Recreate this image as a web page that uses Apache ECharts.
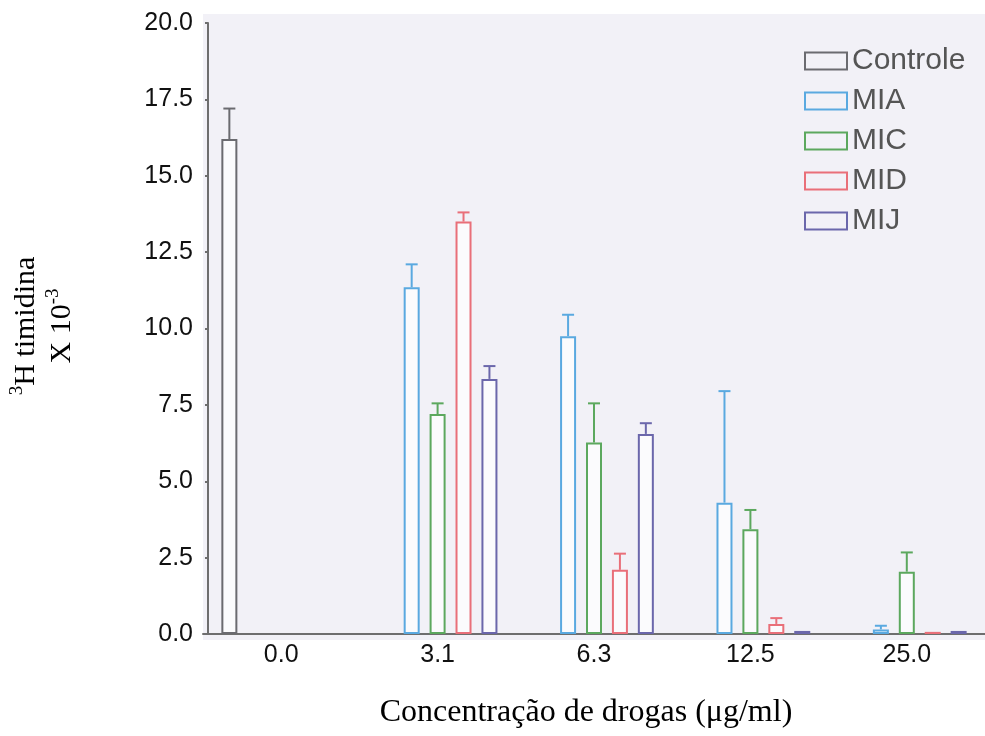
<!DOCTYPE html>
<html>
<head>
<meta charset="utf-8">
<script src="https://cdn.jsdelivr.net/npm/echarts@6/dist/echarts.min.js"></script>
<style>
html,body{margin:0;padding:0;background:#fff;}
#chart{width:985px;height:736px;}
</style>
</head>
<body>
<div id="chart"></div>
<script>
// ---- data ----
const categories = ['0.0', '3.1', '6.3', '12.5', '25.0'];
const seriesNames = ['Controle', 'MIA', 'MIC', 'MID', 'MIJ'];
const controleVals = [16.2, null, null, null, null];
const controleErr  = [17.2, null, null, null, null];
const miaVals = [null, 11.35, 9.75, 4.3, 0.15];
const miaErr  = [null, 12.1, 10.45, 7.95, 0.27];
const micVals = [null, 7.2, 6.27, 3.43, 2.04];
const micErr  = [null, 7.55, 7.55, 4.06, 2.67];
const midVals = [null, 13.5, 2.1, 0.33, 0.07];
const midErr  = [null, 13.8, 2.63, 0.52, null];
const mijVals = [null, 8.35, 6.55, 0.1, 0.1];
const mijErr  = [null, 8.77, 6.9, null, null];
const yTicks = [0, 2.5, 5, 7.5, 10, 12.5, 15, 17.5, 20];

// ---- styling ----
const colors = ['#6b6b70', '#5aa9e0', '#5ca85e', '#e96f79', '#6b67ab'];
const BAR_W = 16;
const GAP = 0.62;
const SLOT = BAR_W * (1 + GAP);
const sans = 'Liberation Sans, Arial, sans-serif';
const serif = 'Liberation Serif, Times New Roman, serif';

const allVals = [controleVals, miaVals, micVals, midVals, mijVals];
const allErr = [controleErr, miaErr, micErr, midErr, mijErr];

const series = [];
seriesNames.forEach((name, k) => {
  series.push({
    name: name,
    type: 'bar',
    barWidth: BAR_W,
    barGap: (GAP * 100) + '%',
    data: allVals[k],
    itemStyle: { color: '#fbfbfd', borderColor: colors[k], borderWidth: 2 },
    emphasis: { disabled: true },
    z: 3
  });
});
seriesNames.forEach((name, k) => {
  const data = [];
  allErr[k].forEach((e, i) => {
    if (e !== null && allVals[k][i] !== null) data.push([i, allVals[k][i], e]);
  });
  const offset = (k - 2) * SLOT;
  series.push({
    name: name + '_err',
    type: 'custom',
    data: data,
    z: 4,
    silent: true,
    renderItem: function (params, api) {
      const xi = api.value(0);
      const base = api.coord([xi, api.value(1)]);
      const top = api.coord([xi, api.value(2)]);
      const x = base[0] + offset;
      const st = { stroke: colors[k], lineWidth: 2 };
      return {
        type: 'group',
        children: [
          { type: 'line', shape: { x1: x, y1: base[1], x2: x, y2: top[1] }, style: st },
          { type: 'line', shape: { x1: x - 6, y1: top[1], x2: x + 6, y2: top[1] }, style: st }
        ]
      };
    }
  });
});

const chart = echarts.init(document.getElementById('chart'), null, { renderer: 'canvas' });
chart.setOption({
  backgroundColor: '#ffffff',
  animation: false,
  grid: { left: 203, right: 0, top: 23, bottom: 102, containLabel: false },
  legend: {
    orient: 'vertical',
    left: 799,
    top: 41,
    itemWidth: 42,
    itemHeight: 17,
    itemGap: 10,
    selectedMode: false,
    textStyle: { fontFamily: sans, fontSize: 30, color: '#555555' },
    data: seriesNames.map((n, k) => ({
      name: n,
      icon: 'rect',
      itemStyle: { color: 'rgba(0,0,0,0)', borderColor: colors[k], borderWidth: 2 }
    }))
  },
  xAxis: {
    type: 'category',
    data: categories,
    axisLine: { lineStyle: { color: '#6e6e6e', width: 2 } },
    axisTick: { show: false },
    axisLabel: { fontFamily: sans, fontSize: 25, color: '#111', margin: 9 },
    splitLine: { show: false }
  },
  yAxis: {
    type: 'value',
    min: 0,
    max: 20,
    interval: 2.5,
    offset: -5,
    axisLine: { show: true, lineStyle: { color: '#6e6e6e', width: 2 } },
    axisTick: { show: true, length: 3, lineStyle: { color: '#6e6e6e', width: 2 } },
    axisLabel: {
      fontFamily: sans, fontSize: 25, color: '#111', margin: 15,
      formatter: v => v.toFixed(1)
    },
    splitLine: { show: false }
  },
  graphic: [
    {
      type: 'rect',
      z: -100,
      shape: { x: 203, y: 14, width: 782, height: 626 },
      style: { fill: '#f2f1f7' },
      silent: true
    },
    {
      type: 'text',
      x: 44,
      y: 326,
      rotation: Math.PI / 2,
      style: {
        text: '{s|3}{t|H timidina}\n{t|X 10}{s|-3}',
        align: 'center',
        verticalAlign: 'middle',
        rich: {
          t: { fontFamily: serif, fontSize: 30, lineHeight: 36, fill: '#000' },
          s: { fontFamily: serif, fontSize: 19, lineHeight: 36, verticalAlign: 'top', fill: '#000' }
        }
      }
    },
    {
      type: 'text',
      x: 586,
      y: 713,
      style: {
        text: 'Concentração de drogas (μg/ml)',
        align: 'center',
        verticalAlign: 'middle',
        fontFamily: serif,
        fontSize: 32,
        fill: '#000'
      }
    }
  ],
  series: series
});
</script>
</body>
</html>
